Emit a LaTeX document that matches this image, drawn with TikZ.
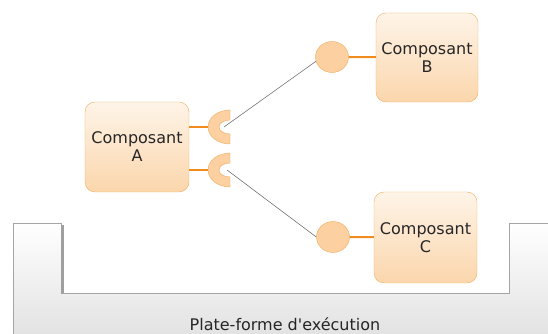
\documentclass[tikz,border=0pt]{standalone}
\usepackage{fontspec}
\setmainfont{DejaVu Sans}
\usetikzlibrary{shapes.geometric}

\definecolor{boxtop}{RGB}{254,244,232}
\definecolor{boxbottom}{RGB}{251,214,172}
\definecolor{boxline}{RGB}{238,176,100}
\definecolor{ballfill}{RGB}{252,208,160}
\definecolor{ballline}{RGB}{238,170,92}
\definecolor{linkorange}{RGB}{240,140,30}
\definecolor{wiregray}{RGB}{115,115,115}
\definecolor{platgray}{RGB}{226,226,226}
\definecolor{platline}{RGB}{165,165,165}

\begin{document}
\begin{tikzpicture}[x=1pt,y=1pt,
    component/.style={rectangle,rounded corners=10pt,draw=boxline,
        top color=boxtop,bottom color=boxbottom,align=center,text=black!85,
        font=\fontsize{16}{18}\selectfont},
    ball/.style={ellipse,draw=ballline,fill=ballfill,
        minimum width=33pt,minimum height=31pt,inner sep=0pt},
    socket/.style={draw=ballline,fill=ballfill},
    link/.style={linkorange,line width=2pt},
    wire/.style={wiregray,line width=0.6pt}]
    \useasboundingbox (0,0) rectangle (548,334);
    % plate-forme
    \shade[top color=white,bottom color=platgray] (13,-2) -- (13,111) -- (61,111) -- (61,41)
        -- (509,41) -- (509,111) -- (550,111) -- (550,-2) -- cycle;
    \draw[platline] (13,-2) -- (13,111) -- (61,111) -- (61,41)
        -- (509,41) -- (509,111) -- (550,111);
    \fill[gray!75] (61,109) rectangle (64,41);
    \node[font=\fontsize{16}{18}\selectfont,text=black!85] (platform) at (285,10) {Plate-forme d\textquotesingle exécution};
    % composants
    \node[component,minimum width=104pt,minimum height=90pt] (compA) at (137,187) {Composant\\A};
    \node[component,minimum width=102pt,minimum height=89pt] (compB) at (427,276.5) {Composant\\B};
    \node[component,minimum width=103pt,minimum height=91pt] (compC) at (425.5,96.5) {Composant\\C};
    % interfaces fournies
    \node[ball] (ballB) at (332,277) {};
    \node[ball] (ballC) at (333,97) {};
    \draw[link] (ballB) -- (compB);
    \draw[link] (ballC) -- (compC);
    % interfaces requises
    \coordinate (sockA1) at (230,207);
    \coordinate (sockA2) at (230,164);
    \draw[socket] (230,224) arc[start angle=90,end angle=270,x radius=22,y radius=17]
        -- (230,200) arc[start angle=270,end angle=90,x radius=11,y radius=7] -- cycle;
    \draw[socket] (230,181) arc[start angle=90,end angle=270,x radius=22,y radius=17]
        -- (230,157) arc[start angle=270,end angle=90,x radius=11,y radius=7] -- cycle;
    \draw[link] (compA.east |- sockA1) -- ++(19,0);
    \draw[link] (compA.east |- sockA2) -- ++(19,0);
    \draw[wire] ([xshift=-6pt]sockA1) -- (ballB.195);
    \draw[wire] ([xshift=-3pt]sockA2) -- (ballC.west);
\end{tikzpicture}
\end{document}
